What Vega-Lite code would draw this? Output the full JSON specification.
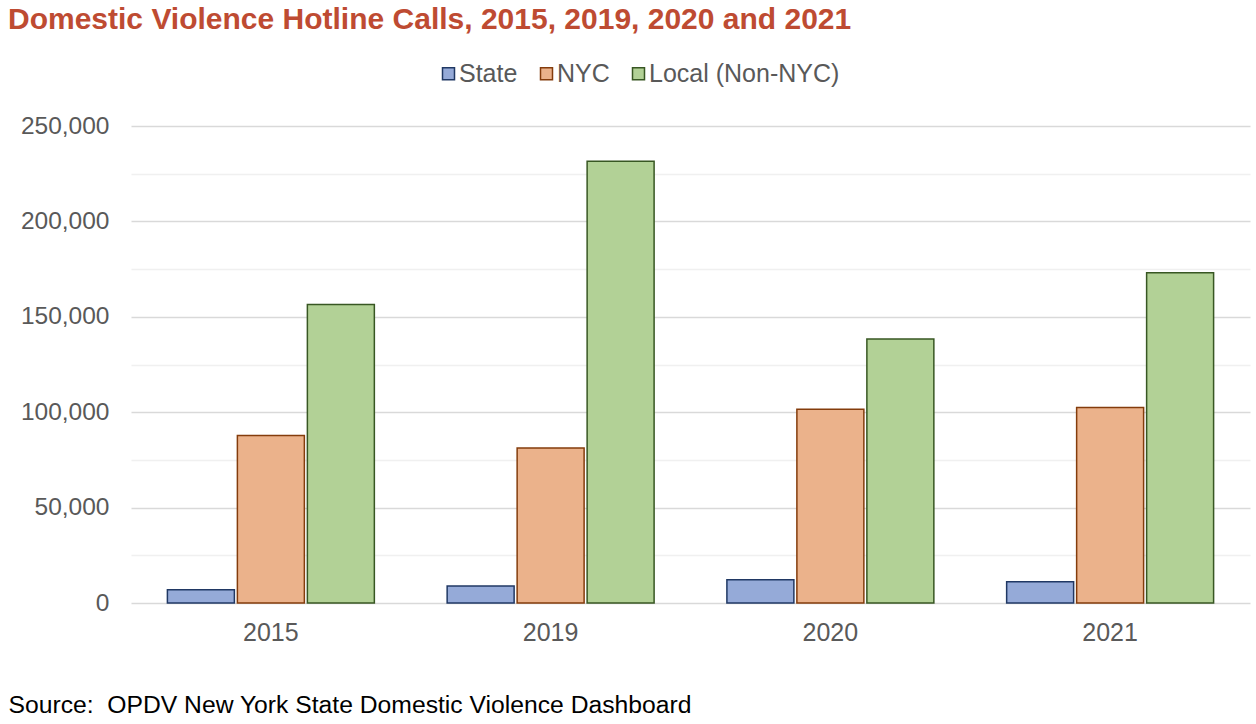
{
  "$schema": "https://vega.github.io/schema/vega-lite/v6.json",
  "width": 1119,
  "height": 477,
  "autosize": {"type": "none"},
  "padding": {"left": 131, "top": 126, "right": 6, "bottom": 121},
  "background": "white",
  "config": {"font": "Liberation Sans", "view": {"stroke": null}},
  "title": {
    "text": "Domestic Violence Hotline Calls, 2015, 2019, 2020 and 2021",
    "anchor": "start",
    "frame": "group",
    "dx": -123,
    "offset": 2,
    "baseline": "alphabetic",
    "fontSize": 30,
    "font": "Liberation Sans",
    "fontWeight": "bold",
    "color": "#BE4B32"
  },
  "data": {
    "values": [
      {"year": "2015", "series": "State", "calls": 7000},
      {"year": "2015", "series": "NYC", "calls": 87800},
      {"year": "2015", "series": "Local (Non-NYC)", "calls": 156500},
      {"year": "2019", "series": "State", "calls": 8900},
      {"year": "2019", "series": "NYC", "calls": 81300},
      {"year": "2019", "series": "Local (Non-NYC)", "calls": 231500},
      {"year": "2020", "series": "State", "calls": 12200},
      {"year": "2020", "series": "NYC", "calls": 101600},
      {"year": "2020", "series": "Local (Non-NYC)", "calls": 138300},
      {"year": "2021", "series": "State", "calls": 11200},
      {"year": "2021", "series": "NYC", "calls": 102400},
      {"year": "2021", "series": "Local (Non-NYC)", "calls": 173100}
    ]
  },
  "mark": {"type": "bar", "strokeWidth": 1.5},
  "encoding": {
    "x": {
      "field": "year",
      "type": "nominal",
      "scale": {"paddingInner": 0, "paddingOuter": 0},
      "axis": {
        "domain": false,
        "ticks": false,
        "labelAngle": 0,
        "labelPadding": 17,
        "labelFontSize": 25,
        "labelColor": "#595959",
        "title": "Source:\u00a0 OPDV New York State Domestic Violence Dashboard",
        "titleX": -123,
        "titleY": 109,
        "titleAlign": "left",
        "titleAnchor": "start",
        "titleBaseline": "alphabetic",
        "titleFontSize": 24.7,
        "titleFontWeight": "normal",
        "titleColor": "#000000",
        "titleLimit": 0
      }
    },
    "xOffset": {
      "field": "series",
      "type": "nominal",
      "sort": ["State", "NYC", "Local (Non-NYC)"],
      "scale": {"paddingInner": 0.043, "paddingOuter": 0.52}
    },
    "y": {
      "field": "calls",
      "type": "quantitative",
      "scale": {"domain": [0, 250000], "nice": false},
      "axis": {
        "title": null,
        "domain": false,
        "ticks": false,
        "values": [0, 25000, 50000, 75000, 100000, 125000, 150000, 175000, 200000, 225000, 250000],
        "labelExpr": "datum.value % 50000 === 0 ? format(datum.value, ',') : ''",
        "labelPadding": 22,
        "labelFontSize": 24.5,
        "labelColor": "#595959",
        "gridWidth": 1.5,
        "gridColor": {"condition": {"test": "datum.value % 50000 === 0", "value": "#d9d9d9"}, "value": "#f0f0f0"}
      }
    },
    "color": {
      "field": "series",
      "type": "nominal",
      "scale": {"domain": ["State", "NYC", "Local (Non-NYC)"], "range": ["#95AAD8", "#EBB28B", "#B2D196"]},
      "legend": {
        "title": null,
        "orient": "none",
        "direction": "horizontal",
        "legendX": 305,
        "legendY": -65,
        "symbolType": "square",
        "symbolSize": 144,
        "symbolStrokeWidth": 1.5,
        "labelFontSize": 25,
        "labelColor": "#595959",
        "labelOffset": -2,
        "labelLimit": 0,
        "columnPadding": 16
      }
    },
    "stroke": {
      "field": "series",
      "type": "nominal",
      "scale": {"domain": ["State", "NYC", "Local (Non-NYC)"], "range": ["#203864", "#843C0C", "#385723"]}
    }
  }
}
